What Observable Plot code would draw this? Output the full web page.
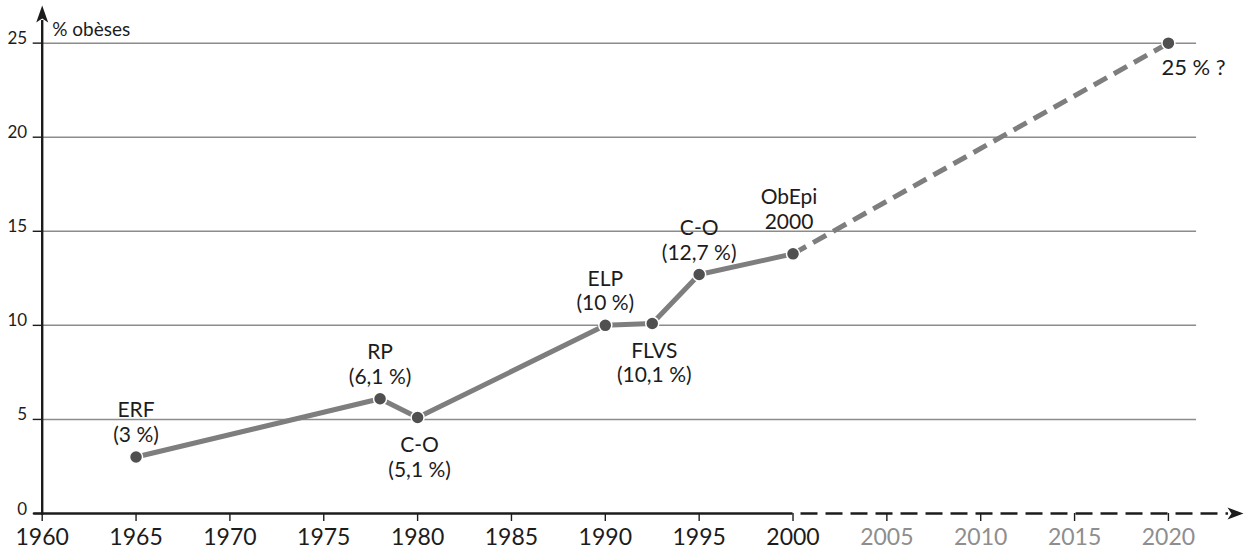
<!DOCTYPE html>
<html>
<head>
<meta charset="utf-8">
<script src="https://cdn.jsdelivr.net/npm/d3@7"></script>
<script src="https://cdn.jsdelivr.net/npm/@observablehq/plot@0.6"></script>
<style>
  html, body { margin: 0; padding: 0; background: #fff; }
  #chart svg { display: block; }
</style>
</head>
<body>
<div id="chart"></div>
<script>
// ---- data ----
const surveyYears = [1965, 1978, 1980, 1990, 1992.5, 1995, 2000];
const obesityPct = [3, 6.1, 5.1, 10, 10.1, 12.7, 13.8];
const surveyNames = ["ERF", "RP", "C-O", "ELP", "FLVS", "C-O", "ObEpi"];
const valueLabels = ["(3 %)", "(6,1 %)", "(5,1 %)", "(10 %)", "(10,1 %)", "(12,7 %)", "2000"];
const labelSide = ["above", "above", "below", "above", "below", "above", "above"];
const projectionYears = [2000, 2020];
const projectionPct = [13.8, 25];
const projectionLabel = "25 % ?";
const xTicks = [1960, 1965, 1970, 1975, 1980, 1985, 1990, 1995, 2000, 2005, 2010, 2015, 2020];
const yTicks = [0, 5, 10, 15, 20, 25];
const yTitle = "% obèses";
const lastObservedYear = 2000;

// ---- derived tables ----
const points = surveyYears.map((x, i) => ({x, y: obesityPct[i], name: surveyNames[i], value: valueLabels[i], side: labelSide[i], text: surveyNames[i] + "\n" + valueLabels[i]}));
const projection = projectionYears.map((x, i) => ({x, y: projectionPct[i]}));
const projectionEnd = projection[projection.length - 1];

const AXIS = "#1c1c1c";
const LINE = "#7e7e7e";
const DOT = "#505050";
const GRID = "#8c8c8c";
const FONT = "Lato, 'Open Sans', sans-serif";

const arrowHead = {
  draw(context, l) {
    context.moveTo(0, -l);
    context.lineTo(6, 0);
    context.lineTo(0, -4);
    context.lineTo(-6, 0);
    context.closePath();
  }
};

const xMin = xTicks[0];
const xMax = 2024;
const yMax = 27;
const LABEL_SIZE = 21;
const LH = 1.17;

const chart = Plot.plot({
  width: 1253,
  height: 550,
  marginLeft: 41.7,
  marginRight: 10,
  marginTop: 5,
  marginBottom: 37,
  style: {fontFamily: FONT, background: "#fff", overflow: "visible"},
  x: {domain: [xMin, xMax], label: null},
  y: {domain: [0, yMax], label: null},
  marks: [
    // gridlines
    Plot.ruleY(yTicks.filter(d => d > 0), {x1: xMin, x2: 2021.5, stroke: GRID, strokeWidth: 1.5}),
    // axis ticks
    Plot.axisX({ticks: xTicks, tickSize: 8, tickFormat: () => "", stroke: AXIS, strokeWidth: 1.4, strokeOpacity: 1}),
    Plot.axisY({ticks: yTicks, tickSize: 9, tickFormat: () => "", stroke: AXIS, strokeWidth: 1.4, strokeOpacity: 1}),
    // x tick labels
    Plot.text(xTicks, {x: d => d, y: 0, dy: 24, text: d => String(d), fontSize: 23,
      fill: d => d > lastObservedYear ? "#8e8e8e" : "#1c1c1c"}),
    // y tick labels
    Plot.text(yTicks, {x: xMin, y: d => d, dx: -15, dy: 1, text: d => String(d), textAnchor: "end", lineAnchor: "bottom", fontSize: 17, fill: "#1c1c1c"}),
    // y axis line + arrow
    Plot.ruleX([xMin], {y1: -0.1, y2: yMax - 0.8, stroke: AXIS, strokeWidth: 2.4}),
    Plot.vector([{x: xMin, y: yMax}], {x: "x", y: "y", length: 17, anchor: "end", rotate: 0, shape: arrowHead, fill: AXIS, stroke: "none"}),
    // x axis line (solid to last observed year, then dashed) + arrow
    Plot.ruleY([0], {x1: 1959.55, x2: lastObservedYear, stroke: AXIS, strokeWidth: 2.4}),
    Plot.ruleY([0], {x1: lastObservedYear, x2: xMax - 0.8, stroke: AXIS, strokeWidth: 2.4, strokeDasharray: "17,8", strokeDashoffset: 17}),
    Plot.vector([{x: xMax, y: 0}], {x: "x", y: "y", length: 16, anchor: "end", rotate: 90, shape: arrowHead, fill: AXIS, stroke: "none"}),
    // y title
    Plot.text([yTitle], {x: xMin, y: 25, dx: 10, dy: -7, text: d => d, textAnchor: "start", lineAnchor: "bottom", fontSize: 19, fill: "#1c1c1c"}),
    // data lines
    Plot.line(projection, {x: "x", y: "y", stroke: LINE, strokeWidth: 5, strokeDasharray: "15,8", strokeLinecap: "butt"}),
    Plot.line(points, {x: "x", y: "y", stroke: LINE, strokeWidth: 5, strokeLinejoin: "round"}),
    Plot.dot(points, {x: "x", y: "y", r: 6.5, fill: DOT, stroke: "#fff", strokeWidth: 1.5}),
    Plot.dot([projectionEnd], {x: "x", y: "y", r: 6.5, fill: DOT, stroke: "#fff", strokeWidth: 1.5}),
    // point labels
    Plot.text(points.filter(d => d.side === "above" && d.name !== "ObEpi"), {x: "x", y: "y", text: "text", dy: -15, lineAnchor: "bottom", lineHeight: LH, fontSize: LABEL_SIZE, fill: "#1c1c1c"}),
    Plot.text(points.filter(d => d.name === "ObEpi"), {x: "x", y: "y", text: "text", dx: -4, dy: -25, lineAnchor: "bottom", lineHeight: LH, fontSize: LABEL_SIZE, fill: "#1c1c1c"}),
    Plot.text(points.filter(d => d.side === "below"), {x: "x", y: "y", text: "text", dx: 2, dy: 17, lineAnchor: "top", lineHeight: LH, fontSize: LABEL_SIZE, fill: "#1c1c1c"}),
    Plot.text([projectionEnd], {x: "x", y: "y", text: () => projectionLabel, dx: -7, dy: 32, textAnchor: "start", lineAnchor: "bottom", fontSize: 22, fill: "#1c1c1c"})
  ]
});

document.getElementById("chart").appendChild(chart);
</script>
</body>
</html>
